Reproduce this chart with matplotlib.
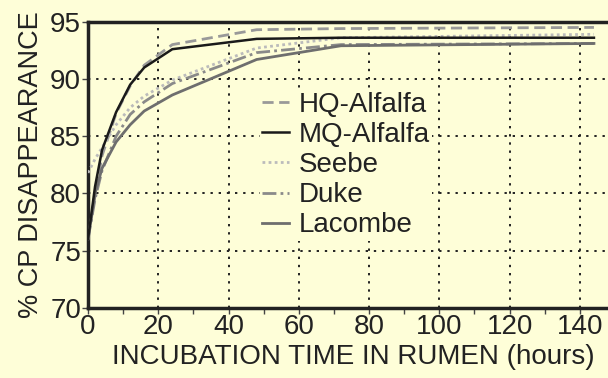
import matplotlib
matplotlib.use('Agg')
import matplotlib.pyplot as plt
from matplotlib.ticker import MultipleLocator

# hours of incubation
horas = [0, 2, 4, 8, 12, 16, 24, 48, 72, 144]

hq_alfalfa = [76.0, 79.8, 83.3, 87.0, 89.4, 91.2, 93.0, 94.3, 94.4, 94.5]
mq_alfalfa = [76.0, 80.6, 83.8, 87.1, 89.5, 91.0, 92.6, 93.5, 93.6, 93.6]
seebe = [81.8, 83.0, 84.0, 86.0, 87.5, 88.5, 89.9, 92.7, 93.6, 93.9]
duke = [76.0, 79.5, 82.0, 85.0, 86.9, 88.0, 89.6, 92.3, 93.0, 93.1]
lacombe = [76.0, 80.0, 82.2, 84.5, 86.0, 87.2, 88.6, 91.7, 92.9, 93.1]

fondo = '#fefed8'
texto = '#222222'

plt.rcParams['font.family'] = ['Liberation Sans', 'DejaVu Sans']

fig = plt.figure(figsize=(6.08, 3.78), dpi=100, facecolor=fondo)
ax = fig.add_axes([88 / 608, 1 - 308 / 378, 1 - 88 / 608, (308 - 21.7) / 378])
ax.set_facecolor(fondo)

ax.plot(horas, hq_alfalfa, color='#999999', lw=2, ls=(0, (4, 2)), label='HQ-Alfalfa', zorder=3)
ax.plot(horas, mq_alfalfa, color='#1a1a1a', lw=1.8, ls='-', label='MQ-Alfalfa', zorder=4)
ax.plot(horas, seebe, color='#bbbbbb', lw=2, ls=(0, (1, 1.2)), label='Seebe', zorder=3)
ax.plot(horas, duke, color='#8a8a8a', lw=2, ls=(0, (5, 1.5, 1, 1.5)), label='Duke', zorder=3)
ax.plot(horas, lacombe, color='#6e6e6e', lw=2, ls='-', label='Lacombe', zorder=3)

ax.set_xlim(0, 148)
ax.set_ylim(70, 95)
ax.xaxis.set_major_locator(MultipleLocator(20))
ax.xaxis.set_minor_locator(MultipleLocator(10))
ax.yaxis.set_major_locator(MultipleLocator(5))

ax.grid(True, which='major', color='#222222', ls=(0, (1.2, 3)), lw=1.4, zorder=1)

for lado in ['left', 'bottom', 'top']:
    ax.spines[lado].set_linewidth(2.5)
    ax.spines[lado].set_color('#222222')
ax.spines['right'].set_visible(False)

ax.tick_params(axis='both', which='major', direction='out', length=4, width=1,
               color='#444444', labelsize=20, labelcolor=texto, pad=1)
ax.tick_params(axis='x', which='minor', direction='out', length=4, width=1, color='#444444')
ax.tick_params(axis='x', which='major', pad=0)

ax.set_xlabel('INCUBATION TIME IN RUMEN (hours)', fontsize=20, color=texto, labelpad=3)
ax.xaxis.set_label_coords(0.51, -0.125)
ax.set_ylabel('% CP DISAPPEARANCE', fontsize=19.5, color=texto, labelpad=4)

leg = ax.legend(loc='upper left', bbox_to_anchor=(0.33, 0.765), frameon=True,
                fontsize=20, handlelength=0.95, handletextpad=0.35, labelspacing=0.15,
                borderaxespad=0, borderpad=0.1, facecolor=fondo, edgecolor='none',
                framealpha=1, fancybox=False)
for t in leg.get_texts():
    t.set_color(texto)

fig.savefig('out.png', dpi=100, facecolor=fondo)
